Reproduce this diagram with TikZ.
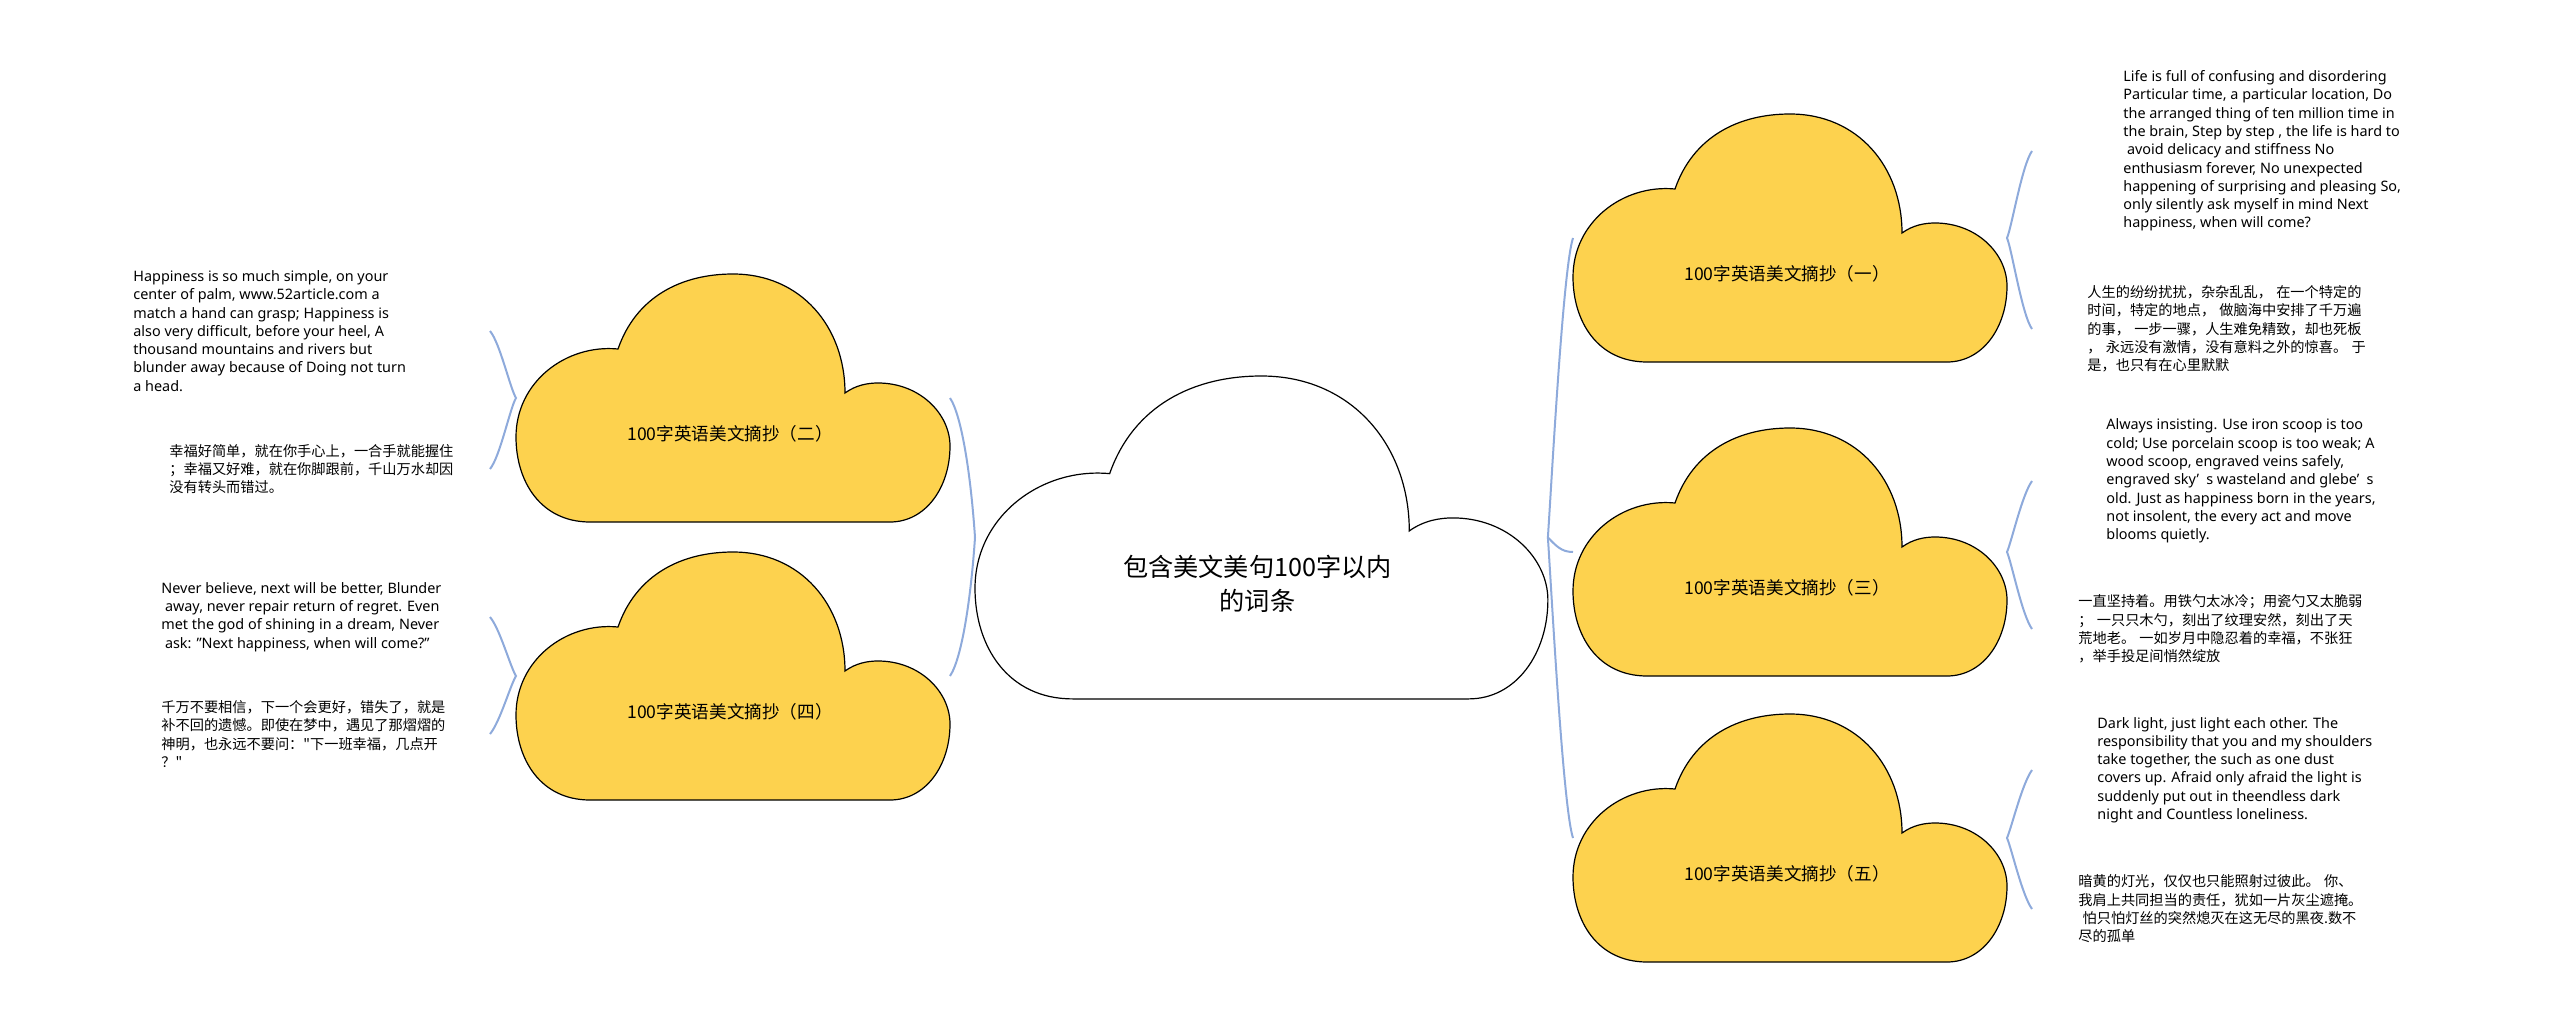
\documentclass[tikz,border=0pt]{standalone}
\usepackage{fontspec}
\setmainfont{Noto Sans}
\newfontfamily\cjk{Noto Sans CJK SC}
\usepackage{tikz}
\usetikzlibrary{calc}
\definecolor{cloudyellow}{RGB}{253,210,78}
\definecolor{linkblue}{RGB}{142,170,219}

\begin{document}
\begin{tikzpicture}[
  x=0.5pt, y=-0.5pt,
  cloud/.pic={
    \path[pic actions] (74,248) .. controls (25,248) and (0,208) .. (0,163)
      .. controls (0,108) and (50,70) .. (102,75)
      .. controls (120,23) and (165,0) .. (217,0)
      .. controls (285,0) and (329,53) .. (329,119)
      .. controls (340,111) and (352,109) .. (362,109)
      .. controls (404,109) and (434,140) .. (434,172)
      .. controls (434,213) and (410,248) .. (374,248) -- cycle;
    \coordinate (-w) at (0,124);
    \coordinate (-e) at (434,124);
    \coordinate (-wo) at (-26,124);
    \coordinate (-eo) at (459,124);
    \coordinate (-c) at (214,160);
  },
  yellow/.style={draw=black, fill=cloudyellow, line width=0.6pt},
  link/.style={draw=linkblue, line width=1pt},
  lbl/.style={font=\cjk\fontsize{8.8}{10}\selectfont, inner sep=0pt},
  en/.style={font=\fontsize{7.2}{9.15}\selectfont, align=left, inner sep=0pt, anchor=west},
  zh/.style={font=\cjk\fontsize{7.1}{9.15}\selectfont, align=left, inner sep=0pt, anchor=west}
]
  \useasboundingbox (0,0) rectangle (2560,1022);
  % Clouds
  \pic[draw=black, fill=white, line width=0.6pt, xscale=1.32, yscale=1.302] (ctr) at (975,376) {cloud};
  \pic[yellow] (c1) at (1573,114) {cloud};
  \pic[yellow] (c2) at (516,274) {cloud};
  \pic[yellow] (c3) at (1573,428) {cloud};
  \pic[yellow] (c4) at (516,552) {cloud};
  \pic[yellow] (c5) at (1573,714) {cloud};
  \node[font=\cjk\fontsize{12.6}{17}\selectfont, align=center, inner sep=0pt] (root) at (ctr-c) {包含美文美句100字以内\\的词条};
  \node[lbl] (l1) at (c1-c) {100字英语美文摘抄（一）};
  \node[lbl] (l2) at (c2-c) {100字英语美文摘抄（二）};
  \node[lbl] (l3) at (c3-c) {100字英语美文摘抄（三）};
  \node[lbl] (l4) at (c4-c) {100字英语美文摘抄（四）};
  \node[lbl] (l5) at (c5-c) {100字英语美文摘抄（五）};
  % Details
  \node[en] (d2a) at (133,331) {Happiness is so much simple, on your\\center of palm, www.52article.com a\\match a hand can grasp; Happiness is\\also very difficult, before your heel, A\\thousand mountains and rivers but\\blunder away because of Doing not turn\\a head.};
  \node[zh] (d2b) at (169,469) {幸福好简单，就在你手心上，一合手就能握住\\；幸福又好难，就在你脚跟前，千山万水却因\\没有转头而错过。};
  \node[en] (d4a) at (161,617) {Never believe, next will be better, Blunder\\\hspace*{0.25em}away, never repair return of regret. Even\\met the god of shining in a dream, Never\\\hspace*{0.25em}ask: "Next happiness, when will come?"};
  \node[zh] (d4b) at (161,734) {千万不要相信，下一个会更好，错失了，就是\\补不回的遗憾。即使在梦中，遇见了那熠熠的\\神明，也永远不要问："下一班幸福，几点开\\？"};
  \node[en] (d1a) at (2123,151) {Life is full of confusing and disordering\\Particular time, a particular location, Do\\the arranged thing of ten million time in\\the brain, Step by step , the life is hard to\\\hspace*{0.25em}avoid delicacy and stiffness No\\enthusiasm forever, No unexpected\\happening of surprising and pleasing So,\\only silently ask myself in mind Next\\happiness, when will come?};
  \node[zh] (d1b) at (2087,329) {人生的纷纷扰扰，杂杂乱乱，\hspace{0.3em}在一个特定的\\时间，特定的地点，\hspace{0.3em}做脑海中安排了千万遍\\的事，\hspace{0.3em}一步一骤，人生难免精致，却也死板\\，\hspace{0.3em}永远没有激情，没有意料之外的惊喜。\hspace{0.3em}于\\是，也只有在心里默默};
  \node[en] (d3a) at (2106,481) {Always insisting. Use iron scoop is too\\cold; Use porcelain scoop is too weak; A\\wood scoop, engraved veins safely,\\engraved sky’\hspace{0.5em}s wasteland and glebe’\hspace{0.5em}s\\old. Just as happiness born in the years,\\not insolent, the every act and move\\blooms quietly.};
  \node[zh] (d3b) at (2078,629) {一直坚持着。用铁勺太冰冷；用瓷勺又太脆弱\\；\hspace{0.3em}一只只木勺，刻出了纹理安然，刻出了天\\荒地老。\hspace{0.3em}一如岁月中隐忍着的幸福，不张狂\\，举手投足间悄然绽放};
  \node[en] (d5a) at (2097,770) {Dark light, just light each other. The\\responsibility that you and my shoulders\\take together, the such as one dust\\covers up. Afraid only afraid the light is\\suddenly put out in theendless dark\\night and Countless loneliness.};
  \node[zh] (d5b) at (2078,909) {暗黄的灯光，仅仅也只能照射过彼此。\hspace{0.3em}你、\\我肩上共同担当的责任，犹如一片灰尘遮掩。\\\hspace*{0.3em}怕只怕灯丝的突然熄灭在这无尽的黑夜.数不\\尽的孤单};
  % Braces
  \draw[link] (c2-e) .. controls +(12,18) and +(-4,-60) .. (ctr-w) .. controls +(-4,60) and +(12,-18) .. (c4-e);
  \draw[link] (c1-w) .. controls +(-10,30) and +(4,-60) .. (ctr-e) .. controls +(4,60) and +(-10,-30) .. (c5-w);
  \draw[link] (ctr-e) .. controls +(8,8) and +(-12,0) .. (c3-w);
  \draw[link] (d2a.east -| c2-wo) .. controls +(10,12) and +(-6,-10) .. (c2-w) .. controls +(-6,10) and +(10,-12) .. (d2b.east -| c2-wo);
  \draw[link] (d4a.east -| c4-wo) .. controls +(10,12) and +(-6,-10) .. (c4-w) .. controls +(-6,10) and +(10,-12) .. (d4b.east -| c4-wo);
  \draw[link] (d1a.west -| c1-eo) .. controls +(-10,14) and +(5,-12) .. (c1-e) .. controls +(5,12) and +(-10,-14) .. (d1b.west -| c1-eo);
  \draw[link] (d3a.west -| c3-eo) .. controls +(-10,14) and +(5,-12) .. (c3-e) .. controls +(5,12) and +(-10,-14) .. (d3b.west -| c3-eo);
  \draw[link] (d5a.west -| c5-eo) .. controls +(-10,14) and +(5,-12) .. (c5-e) .. controls +(5,12) and +(-10,-14) .. (d5b.west -| c5-eo);
\end{tikzpicture}
\end{document}
